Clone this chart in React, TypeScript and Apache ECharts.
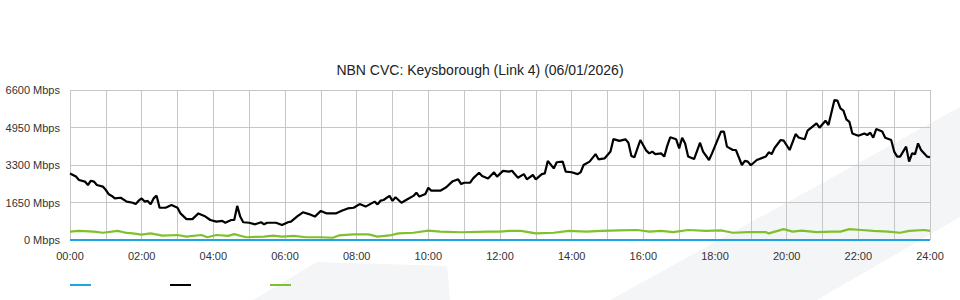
import React, { useEffect, useRef } from "react";
import * as echarts from "echarts";

const titleText = "NBN CVC: Keysborough (Link 4) (06/01/2026)";
const yTicks = [0, 1650, 3300, 4950, 6600];

// minutes since midnight and Mbps
const blackTimes = [0,10,15,25,30,35,40,45,55,60,65,70,75,85,95,105,110,115,120,125,130,135,140,145,150,160,170,180,185,195,205,215,225,235,245,255,260,270,275,280,285,290,300,310,320,325,330,345,355,365,370,380,390,400,410,420,430,445,455,465,475,485,495,510,515,520,525,535,540,545,555,565,575,580,585,595,600,605,620,630,640,650,655,660,670,675,685,690,700,710,715,725,735,740,750,760,765,775,780,790,795,800,810,815,825,830,840,850,855,860,870,880,885,895,905,910,920,930,935,940,945,955,965,970,975,980,990,995,1000,1005,1015,1020,1025,1030,1035,1045,1055,1060,1070,1075,1090,1095,1100,1110,1115,1125,1130,1135,1140,1150,1165,1170,1175,1180,1190,1195,1205,1215,1220,1230,1235,1250,1255,1265,1270,1280,1285,1290,1295,1300,1305,1310,1320,1330,1335,1340,1345,1350,1360,1365,1375,1380,1385,1390,1400,1405,1410,1415,1420,1425,1435,1440];
const blackMbps = [2930,2790,2640,2570,2420,2610,2570,2420,2350,2200,2010,1940,1830,1860,1690,1640,1580,1730,1830,1690,1720,1570,1830,1950,1420,1420,1540,1420,1170,920,920,1170,1060,880,810,840,760,880,880,1500,1030,780,760,690,780,690,760,760,660,780,810,1030,1220,1140,1030,1280,1170,1170,1290,1390,1420,1580,1470,1690,1570,1730,1760,1940,1720,1880,1640,1790,1940,2080,1910,2020,2300,2170,2170,2320,2570,2670,2460,2520,2520,2710,2960,2820,2710,2980,2790,3040,3010,3050,2740,2900,2670,2860,2670,2900,2930,3480,3150,3420,3450,3010,2980,2900,2980,3300,3450,3780,3550,3590,3890,4440,4360,4430,4280,3700,3640,4400,3930,3810,3890,3780,3810,3670,4140,4520,4430,4030,4500,4250,3670,3560,4280,3890,3520,3810,4770,4770,4110,3960,3960,3300,3480,3450,3290,3520,3670,3860,3780,4060,4400,4370,3960,4660,4510,4430,4810,5130,4940,5250,5060,6160,6130,5790,5690,5310,5200,4690,4590,4690,4620,4720,4500,4880,4770,4500,4400,3890,3670,3670,4110,3450,3810,3780,4250,3960,3670,3640];

const greenTimes = [0,15,40,55,80,95,105,120,135,155,180,195,220,230,245,265,275,295,325,340,355,375,395,420,440,450,475,500,515,535,550,575,600,620,655,700,720,735,755,780,810,835,865,890,920,950,970,990,1010,1035,1065,1090,1110,1135,1165,1170,1185,1195,1210,1225,1250,1275,1290,1305,1325,1345,1370,1390,1405,1430,1440];
const greenMbps = [370,400,370,320,400,310,290,240,290,190,220,150,220,120,220,180,260,120,150,190,150,180,120,120,100,200,250,250,150,200,290,320,410,370,340,370,370,400,400,290,320,400,370,400,420,440,370,400,350,440,400,420,320,350,350,290,400,480,370,410,350,370,370,480,440,400,370,320,400,440,400];

const blueTimes = [0, 360, 720, 1080, 1440];
const blueMbps = [0, 0, 0, 0, 0];

const colors = { blue: "#1ea6e3", black: "#000000", green: "#7fc12c" };

const zip = (t: number[], v: number[]) => t.map((x, i) => [x, v[i]]);
const pad = (n: number) => (n < 10 ? "0" + n : "" + n);

export default function App() {
  const ref = useRef<HTMLDivElement>(null);
  useEffect(() => {
    document.body.style.margin = "0";
    const chart = echarts.init(ref.current!, null, { renderer: "svg" });
    const font = "'Liberation Sans', Arial, sans-serif";
    chart.setOption({
      animation: false,
      backgroundColor: "#ffffff",
      textStyle: { fontFamily: font },
      title: {
        text: titleText,
        left: "center",
        top: 58,
        textStyle: { fontSize: 14, fontWeight: "normal", color: "#222", fontFamily: font },
      },
      grid: { left: 70, right: 30, top: 90, bottom: 60, containLabel: false },
      xAxis: {
        type: "value",
        min: 0,
        max: 1440,
        interval: 120,
        axisLine: { show: false },
        axisTick: { show: false },
        minorTick: { show: false, splitNumber: 2 },
        minorSplitLine: { show: true, lineStyle: { color: "#c6c6c6", width: 1 } },
        splitLine: { show: true, lineStyle: { color: "#c6c6c6", width: 1 } },
        axisLabel: {
          color: "#333",
          fontSize: 11,
          margin: 10,
          fontFamily: font,
          formatter: (v: number) => pad(Math.round(v / 60)) + ":00",
        },
      },
      yAxis: {
        type: "value",
        min: 0,
        max: yTicks[yTicks.length - 1],
        interval: yTicks[1] - yTicks[0],
        axisLine: { show: false },
        axisTick: { show: false },
        splitLine: { show: true, lineStyle: { color: "#c6c6c6", width: 1 } },
        axisLabel: {
          color: "#333",
          fontSize: 11,
          margin: 10,
          padding: [0, 0, 4, 0],
          fontFamily: font,
          formatter: (v: number) => v + " Mbps",
        },
      },
      graphic: [
        { type: "polygon", z: -10, shape: { points: [[610, 300], [960, 107], [960, 217], [817, 300]] }, style: { fill: "#f4f5f7" } },
        { type: "polygon", z: -10, shape: { points: [[253, 300], [317, 262], [447, 266], [450, 300]] }, style: { fill: "#f4f5f7" } },
        { type: "rect", shape: { x: 70, y: 284, width: 21, height: 2 }, style: { fill: colors.blue } },
        { type: "rect", shape: { x: 170, y: 284, width: 21, height: 2 }, style: { fill: colors.black } },
        { type: "rect", shape: { x: 270, y: 284, width: 21, height: 2 }, style: { fill: colors.green } },
      ],
      series: [
        {
          type: "line",
          data: zip(blueTimes, blueMbps),
          symbol: "none",
          lineStyle: { color: colors.blue, width: 2 },
          z: 5,
        },
        {
          type: "line",
          data: zip(blackTimes, blackMbps),
          symbol: "none",
          lineStyle: { color: colors.black, width: 2.2 },
          z: 3,
        },
        {
          type: "line",
          data: zip(greenTimes, greenMbps),
          symbol: "none",
          lineStyle: { color: colors.green, width: 2.2 },
          z: 4,
        },
      ],
    });
    return () => chart.dispose();
  }, []);
  return <div ref={ref} style={{ width: 960, height: 300 }} />;
}
